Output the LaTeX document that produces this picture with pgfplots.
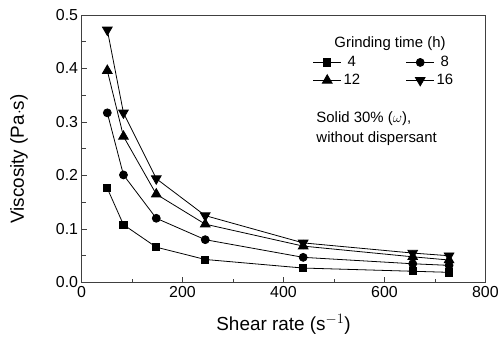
\documentclass[border=0pt]{standalone}
\usepackage{pgfplots}
\pgfplotsset{compat=1.18}
\usepackage{fontspec}
\setmainfont{Liberation Sans}
\begin{document}
\begin{tikzpicture}
\begin{axis}[
  scale only axis, width=406pt, height=269pt,
  xmin=0, xmax=800, ymin=0, ymax=0.5,
  xtick={0,200,400,600,800}, ytick={0,0.1,0.2,0.3,0.4,0.5},
  minor x tick num=1, minor y tick num=1,
  tick align=inside, xtick pos=bottom, ytick pos=left,
  major tick length=5.5pt, minor tick length=4pt,
  axis line style={black!75, line width=0.7pt}, every tick/.style={black!75, line width=0.7pt},
  /pgf/number format/assume math mode=true,
  yticklabel style={/pgf/number format/fixed, /pgf/number format/fixed zerofill, /pgf/number format/precision=1},
  scaled y ticks=false,
  tick label style={font=\fontsize{16}{18}\selectfont},
  xlabel={Shear rate (s$^{-1}$)}, ylabel={Viscosity (Pa$\cdot$s)},
  xlabel style={font=\fontsize{19}{21}\selectfont, at={(axis description cs:0.5,-0.178)}, anchor=base},
  ylabel style={font=\fontsize{19}{21}\selectfont, at={(axis description cs:-0.143,0.461)}, anchor=base, rotate=0},
  legend columns=2,
  legend image code/.code={\draw[mark repeat=2,mark phase=2] plot coordinates {(0pt,0pt) (14pt,0pt) (28pt,0pt)};},
  legend style={draw=none, fill=none, at={(axis cs:452,0.432)}, anchor=north west,
    font=\fontsize{15}{16}\selectfont, /tikz/every even column/.append style={column sep=44pt},
    nodes={inner ysep=3pt}},
  every axis plot/.append style={black, line width=0.8pt},
]
\addplot[mark=square*, mark size=3.6pt] coordinates {(51,0.176) (83,0.108) (148,0.066) (245,0.043) (439,0.027) (656,0.021) (728,0.019)};
\addlegendentry{4}
\addplot[mark=*, mark size=4pt] coordinates {(51,0.317) (83,0.201) (148,0.120) (245,0.080) (439,0.047) (656,0.035) (728,0.032)};
\addlegendentry{8}
\addplot[mark=triangle*, mark size=5.6pt] coordinates {(51,0.396) (83,0.273) (148,0.165) (245,0.109) (439,0.068) (656,0.048) (728,0.042)};
\addlegendentry{12}
\addplot[mark=triangle*, mark size=5.6pt, mark options={rotate=180}] coordinates {(51,0.472) (83,0.317) (148,0.194) (245,0.125) (439,0.074) (656,0.055) (728,0.050)};
\addlegendentry{16}
\node[font=\fontsize{15}{16}\selectfont, anchor=base] at (axis cs:611,0.439) {Grinding time (h)};
\node[font=\fontsize{15}{16}\selectfont, anchor=base west, inner sep=0pt] at (axis cs:465,0.299) {Solid 30\% ($\omega$),};
\node[font=\fontsize{15}{16}\selectfont, anchor=base west, inner sep=0pt] at (axis cs:465,0.262) {without dispersant};
\end{axis}
\path ([shift={(-82pt,-55pt)}]current axis.south west) ([shift={(14pt,15pt)}]current axis.north east);
\end{tikzpicture}
\end{document}
